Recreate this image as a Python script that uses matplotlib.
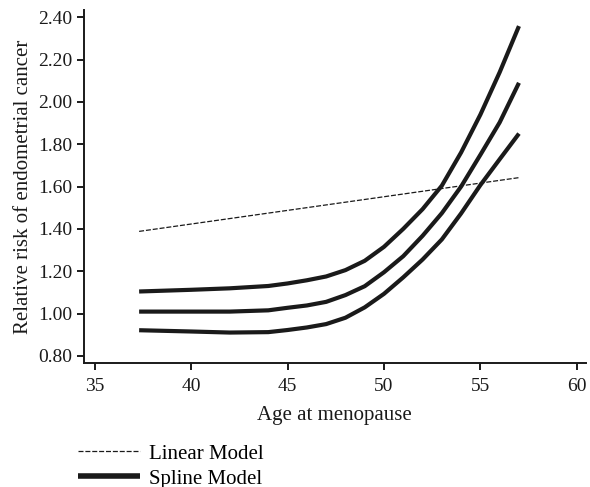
import numpy as np
import matplotlib
matplotlib.use("Agg")
import matplotlib.pyplot as plt

plt.rcParams['font.family'] = ['Liberation Serif', 'DejaVu Serif']

# linear model (straight line between the two ends)
lin_age = [37.3, 57.0]
lin_rr = [1.388, 1.642]

# spline model, upper / middle / lower curves
age = [37.3, 40, 42, 44, 45, 46, 47, 48, 49, 50, 51, 52, 53, 54, 55, 56, 57]
rr_upper = [1.104, 1.112, 1.119, 1.130, 1.142, 1.157, 1.175, 1.205, 1.249,
            1.315, 1.400, 1.493, 1.604, 1.761, 1.940, 2.140, 2.358]
rr_mid = [1.009, 1.009, 1.009, 1.015, 1.027, 1.038, 1.055, 1.087, 1.129,
          1.195, 1.271, 1.367, 1.474, 1.600, 1.750, 1.903, 2.090]
rr_lower = [0.921, 0.915, 0.910, 0.912, 0.922, 0.934, 0.950, 0.980, 1.029,
            1.093, 1.171, 1.255, 1.350, 1.473, 1.607, 1.729, 1.850]

xticks = [35, 40, 45, 50, 55, 60]
yticks = [0.80, 1.00, 1.20, 1.40, 1.60, 1.80, 2.00, 2.20, 2.40]

fig = plt.figure(figsize=(5.9, 4.87), dpi=100)
ax = fig.add_axes([0.142, 0.255, 0.851, 0.724])

c = '#1a1a1a'
ln_lin, = ax.plot(lin_age, lin_rr, color=c, lw=0.9, dashes=(4, 1.5))
ln_sp, = ax.plot(age, rr_upper, color=c, lw=3.0, solid_capstyle='butt',
                 solid_joinstyle='round')
ax.plot(age, rr_mid, color=c, lw=3.0, solid_capstyle='butt', solid_joinstyle='round')
ax.plot(age, rr_lower, color=c, lw=3.0, solid_capstyle='butt', solid_joinstyle='round')

ax.set_xlim(34.43, 60.47)
ax.set_ylim(0.767, 2.433)
ax.set_xticks(xticks)
ax.set_yticks(yticks)
ax.set_yticklabels(['%.2f' % v for v in yticks])
ax.tick_params(direction='out', length=5, width=1.4, labelsize=14, colors=c, pad=3)
ax.tick_params(axis='x', pad=6)
for s in ['top', 'right']:
    ax.spines[s].set_visible(False)
for s in ['left', 'bottom']:
    ax.spines[s].set_linewidth(1.4)
    ax.spines[s].set_color(c)

ax.set_xlabel('Age at menopause', fontsize=15, color=c, labelpad=8)
ax.set_ylabel('Relative risk of endometrial cancer', fontsize=15, color=c, labelpad=4)

leg = fig.legend([ln_lin, ln_sp], ['Linear Model', 'Spline Model'],
                 loc='upper left', bbox_to_anchor=(0.132, 0.088),
                 frameon=False, fontsize=15, handlelength=3.0,
                 handletextpad=0.4, labelspacing=0.25,
                 borderaxespad=0, borderpad=0)
# spline handle in legend is drawn a bit thicker
leg.get_lines()[1].set_linewidth(4)

fig.savefig('out.png', dpi=100)
